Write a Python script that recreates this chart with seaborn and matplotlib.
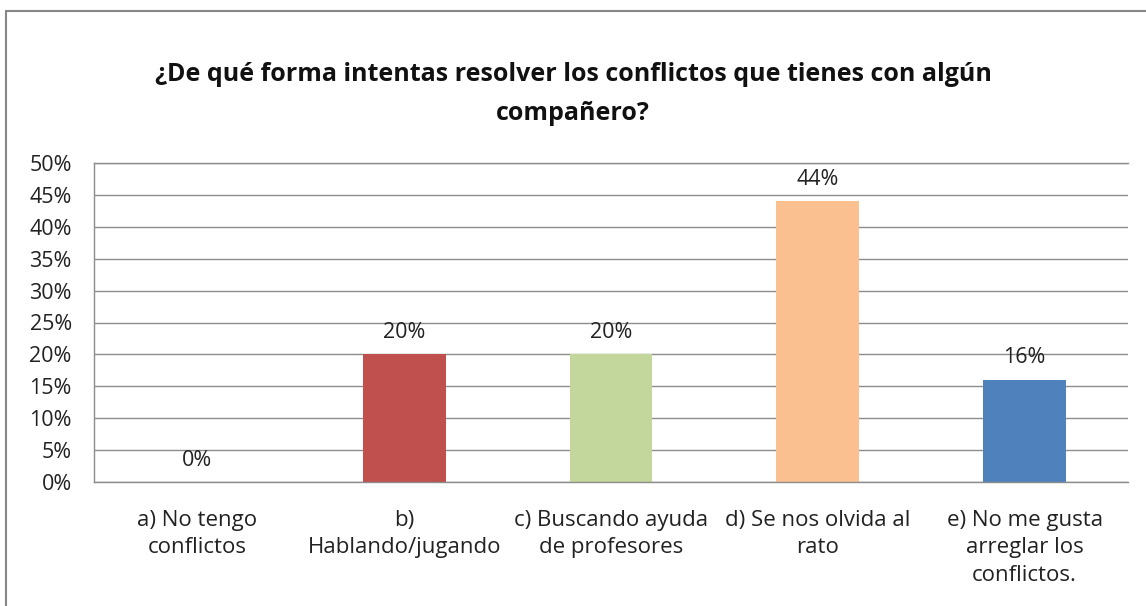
import matplotlib
matplotlib.use("Agg")
import matplotlib.pyplot as plt
import seaborn as sns
import pandas as pd
from matplotlib.patches import Rectangle

categories = ["a) No tengo\nconflictos", "b)\nHablando/jugando", "c) Buscando ayuda\nde profesores",
              "d) Se nos olvida al\nrato", "e) No me gusta\narreglar los\nconflictos."]
values = [0, 20, 20, 44, 16]
labels = ["0%", "20%", "20%", "44%", "16%"]
colors = ["#4F81BD", "#C0504D", "#C3D69B", "#FAC090", "#4F81BD"]
title = "¿De qué forma intentas resolver los conflictos que tienes con algún\ncompañero?"

sns.set_theme(style="white")
plt.rcParams["font.family"] = ["Open Sans", "DejaVu Sans"]

df = pd.DataFrame({"cat": categories, "val": values})

fig = plt.figure(figsize=(11.46, 6.06), dpi=100)
ax = fig.add_axes([94 / 1146, 1 - 482 / 606, (1128 - 94) / 1146, (482 - 163) / 606])

sns.barplot(data=df, x="cat", y="val", hue="cat", palette=colors, width=0.4,
            legend=False, ax=ax, saturation=1, linewidth=0)

ax.set_ylim(0, 50)
ax.set_yticks(range(0, 51, 5))
ax.set_yticklabels([f"{t}%" for t in range(0, 51, 5)], fontsize=15.5, color="#222222")
ax.tick_params(axis="x", labelsize=16, colors="#222222", length=0, pad=20)
ax.tick_params(axis="y", length=0, pad=16)
for t in ax.get_xticklabels():
    t.set_linespacing(1.42)
ax.set_xlabel("")
ax.set_ylabel("")
ax.yaxis.grid(True, color="#8C8C8C", linewidth=1)
ax.set_axisbelow(True)
ax.spines["right"].set_visible(False)
for s in ["left", "top", "bottom"]:
    ax.spines[s].set_color("#8C8C8C")
    ax.spines[s].set_linewidth(1)

for i, (v, lab) in enumerate(zip(values, labels)):
    ax.text(i, v + 1.8, lab, ha="center", va="bottom", fontsize=15.5, color="#222222")

fig.text(0.5, 1 - 94 / 606, title, ha="center", va="center", fontsize=18,
         fontweight="bold", color="#111111", linespacing=1.72)

fig.patches.append(Rectangle((6 / 1146, -0.1), 1.2, 1 - 11 / 606 + 0.1, transform=fig.transFigure,
                             fill=False, edgecolor="#868686", linewidth=1.5))

fig.savefig("out.png", dpi=100, facecolor="white")
